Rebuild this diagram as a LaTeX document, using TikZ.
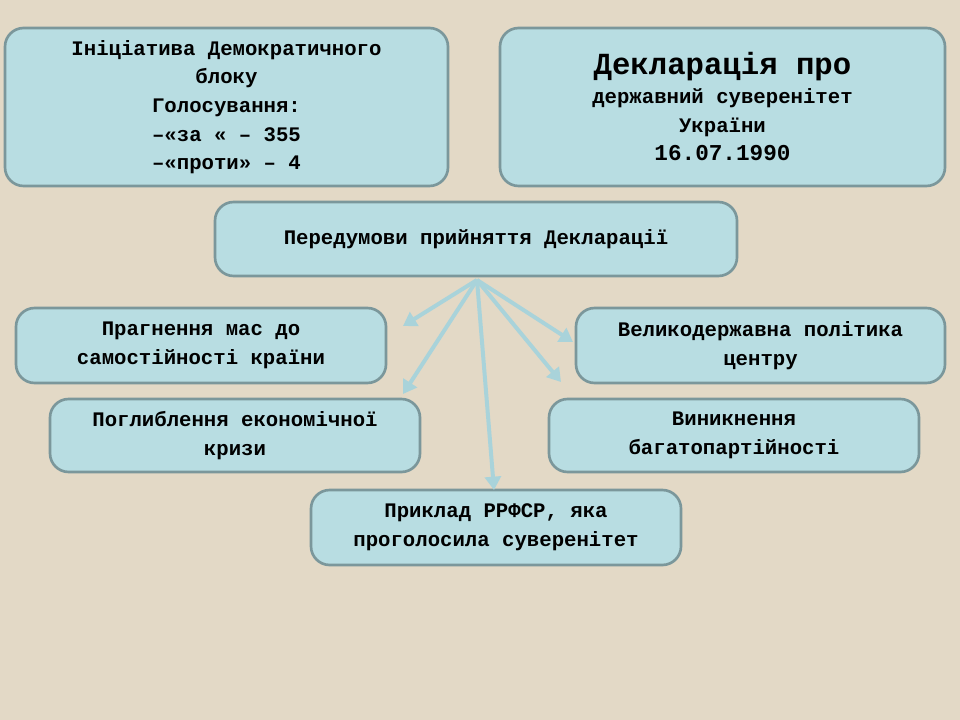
\documentclass[tikz,border=0pt]{standalone}
\usepackage{fontspec}
\setmainfont{Liberation Mono}
\usetikzlibrary{arrows.meta}
\definecolor{bg}{HTML}{E3D9C6}
\definecolor{boxfill}{HTML}{B8DDE2}
\definecolor{boxline}{HTML}{7B979B}
\definecolor{arr}{HTML}{A9D3DA}
\tikzset{
  bx/.style={draw=boxline,line width=2pt,fill=boxfill,rounded corners=14pt,align=center,font=\bfseries\fontsize{15.5}{21.5}\selectfont,inner sep=0pt},
  ar/.style={draw=arr,line width=3pt,-{Triangle[length=10pt,width=12pt]}}
}
\begin{document}
\begin{tikzpicture}[x=0.75pt,y=-0.75pt]
\fill[bg] (0,0) rectangle (960,720);
\useasboundingbox (0,0) rectangle (960,720);
\newcommand\bxn[6]{\node[bx,minimum width=#4*0.75pt-#2*0.75pt,minimum height=#5*0.75pt-#3*0.75pt] (#1) at ({(#2+#4)/2},{(#3+#5)/2}) {#6};}
\bxn{a}{5}{28}{448}{186}{\fontsize{15.5}{21.5}\selectfont Ініціатива Демократичного\\блоку\\Голосування:\\–«за « – 355\\–«проти» – 4}
\bxn{b}{500}{28}{945}{186}{\fontsize{23}{28.5}\selectfont Декларація про\\державний суверенітет\\України\\\fontsize{17}{24}\selectfont 16.07.1990}
\bxn{c}{215}{202}{737}{276}{Передумови прийняття Декларації}
\bxn{d}{16}{308}{386}{383}{Прагнення мас до\\самостійності країни}
\bxn{e}{50}{399}{420}{472}{Поглиблення економічної\\кризи}
\bxn{f}{576}{308}{945}{383}{Великодержавна політика\\центру}
\bxn{g}{549}{399}{919}{472}{Виникнення\\багатопартійності}
\bxn{h}{311}{490}{681}{565}{Приклад РРФСР, яка\\проголосила суверенітет}
\coordinate (o) at (477,280);
\coordinate (td) at (403,326);
\coordinate (te) at (403,394);
\coordinate (th) at (494,490);
\coordinate (tf) at (573,342);
\coordinate (tg) at (561,382);
\foreach \t in {td,te,th,tf,tg} \draw[ar] (o) -- (\t);
\end{tikzpicture}
\end{document}
